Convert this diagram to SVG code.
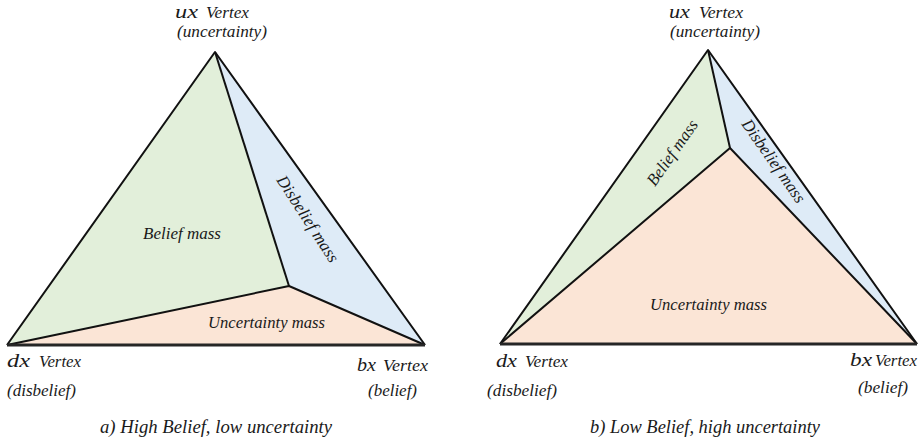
<svg xmlns="http://www.w3.org/2000/svg" width="923" height="443" viewBox="0 0 923 443">
  <style>
    text { font-family: "Liberation Serif", "Times New Roman", serif; font-style: italic; fill: #1a1a1a; }
    .var { font-size: 19px; }
    .vx { font-size: 16px; }
    .sub { font-size: 16px; }
    .mass { font-size: 17px; }
    .cap { font-size: 19px; }
    .belief { fill: #e2efda; }
    .disbelief { fill: #deebf7; }
    .uncert { fill: #fbe5d6; }
    .edge { stroke: #111; stroke-width: 2; fill: none; stroke-linejoin: round; }
    .base { stroke: #262626; stroke-width: 3.2; fill: none; }
  </style>

  <!-- Panel a: high belief, low uncertainty -->
  <g id="a-belief">
    <polygon class="belief" points="215,52 7,345 289,286"/>
    <text class="mass" x="143" y="239" textLength="78" lengthAdjust="spacingAndGlyphs">Belief mass</text>
  </g>
  <g id="a-disbelief">
    <polygon class="disbelief" points="215,52 289,286 425,345"/>
    <text class="mass" transform="translate(276,180) rotate(57)" textLength="100" lengthAdjust="spacingAndGlyphs">Disbelief mass</text>
  </g>
  <g id="a-uncertainty">
    <polygon class="uncert" points="7,345 289,286 425,345"/>
    <text class="mass" x="208" y="328" textLength="117" lengthAdjust="spacingAndGlyphs">Uncertainty mass</text>
  </g>
  <g id="a-ux">
    <text class="var" x="175" y="18" textLength="23" lengthAdjust="spacingAndGlyphs">ux</text>
    <text class="vx" x="206" y="18" textLength="43" lengthAdjust="spacingAndGlyphs">Vertex</text>
    <text class="sub" x="177" y="37" textLength="90" lengthAdjust="spacingAndGlyphs">(uncertainty)</text>
  </g>
  <g id="a-dx">
    <text class="var" x="7" y="367" textLength="23" lengthAdjust="spacingAndGlyphs">dx</text>
    <text class="vx" x="39" y="367" textLength="42" lengthAdjust="spacingAndGlyphs">Vertex</text>
    <text class="sub" x="7" y="396" textLength="69" lengthAdjust="spacingAndGlyphs">(disbelief)</text>
  </g>
  <g id="a-bx">
    <text class="var" x="357" y="371" textLength="19" lengthAdjust="spacingAndGlyphs">bx</text>
    <text class="vx" x="383" y="371" textLength="45" lengthAdjust="spacingAndGlyphs">Vertex</text>
    <text class="sub" x="368" y="396" textLength="49" lengthAdjust="spacingAndGlyphs">(belief)</text>
  </g>
  <text class="cap" x="100" y="433" textLength="232" lengthAdjust="spacingAndGlyphs">a) High Belief, low uncertainty</text>

  <!-- Panel b: low belief, high uncertainty -->
  <g id="b-belief">
    <polygon class="belief" points="708,50 500,344 730,148"/>
    <text class="mass" transform="translate(655,187) rotate(-55)" textLength="76" lengthAdjust="spacingAndGlyphs">Belief mass</text>
  </g>
  <g id="b-disbelief">
    <polygon class="disbelief" points="708,50 730,148 917,344"/>
    <text class="mass" transform="translate(741,124) rotate(55)" textLength="98" lengthAdjust="spacingAndGlyphs">Disbelief mass</text>
  </g>
  <g id="b-uncertainty">
    <polygon class="uncert" points="500,344 730,148 917,344"/>
    <text class="mass" x="650" y="310" textLength="117" lengthAdjust="spacingAndGlyphs">Uncertainty mass</text>
  </g>
  <g id="b-ux">
    <text class="var" x="669" y="18" textLength="21" lengthAdjust="spacingAndGlyphs">ux</text>
    <text class="vx" x="699" y="18" textLength="44" lengthAdjust="spacingAndGlyphs">Vertex</text>
    <text class="sub" x="670" y="37" textLength="90" lengthAdjust="spacingAndGlyphs">(uncertainty)</text>
  </g>
  <g id="b-dx">
    <text class="var" x="496" y="367" textLength="21" lengthAdjust="spacingAndGlyphs">dx</text>
    <text class="vx" x="525" y="367" textLength="43" lengthAdjust="spacingAndGlyphs">Vertex</text>
    <text class="sub" x="487" y="396" textLength="70" lengthAdjust="spacingAndGlyphs">(disbelief)</text>
  </g>
  <g id="b-bx">
    <text class="var" x="850" y="366" textLength="22" lengthAdjust="spacingAndGlyphs">bx</text>
    <text class="vx" x="875" y="366" textLength="42" lengthAdjust="spacingAndGlyphs">Vertex</text>
    <text class="sub" x="858" y="393" textLength="50" lengthAdjust="spacingAndGlyphs">(belief)</text>
  </g>
  <text class="cap" x="590" y="433" textLength="230" lengthAdjust="spacingAndGlyphs">b) Low Belief, high uncertainty</text>

  <!-- Edges of both simplex triangles -->
  <g id="connectors">
    <polyline class="edge" points="7,345 215,52 425,345"/>
    <polyline class="edge" points="215,52 289,286"/>
    <polyline class="edge" points="7,345 289,286 425,345"/>
    <line class="base" x1="7" y1="345" x2="425" y2="345"/>

    <polyline class="edge" points="500,344 708,50 917,344"/>
    <polyline class="edge" points="708,50 730,148"/>
    <polyline class="edge" points="500,344 730,148 917,344"/>
    <line class="base" x1="500" y1="344" x2="917" y2="344"/>
  </g>
</svg>
